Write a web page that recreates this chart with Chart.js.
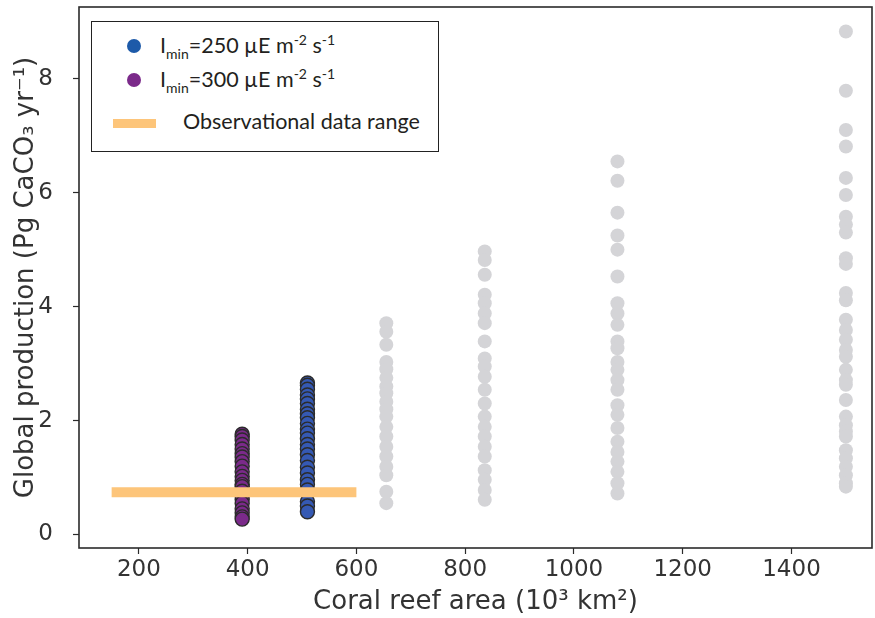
<!DOCTYPE html>
<html>
<head>
<meta charset="utf-8">
<script src="https://cdn.jsdelivr.net/npm/chart.js@4"></script>
<style>
  body { margin: 0; background: #fff; }
  #wrap { position: relative; width: 875px; height: 618px; }
  #legend {
    position: absolute; left: 91px; top: 21px; width: 346px; height: 129px;
    border: 1.6px solid #222; background: #fff;
    font-family: Lato, "Open Sans", sans-serif; font-size: 21.5px; color: #231f20;
  }
  .dot { position: absolute; width: 14px; height: 14px; border-radius: 50%; }
  .lbl { position: absolute; left: 68px; white-space: nowrap; }
  .lbl sub { font-size: 14px; vertical-align: -6px; }
  .lbl sup { font-size: 14px; vertical-align: 8px; }
  .bar { position: absolute; left: 21px; width: 43px; height: 9px; background: #fdc57a; }
</style>
</head>
<body>
<div id="wrap">
  <canvas id="chart" width="875" height="618"></canvas>
  <div id="legend">
    <div class="dot" style="left:35px; top:17px; background:#1d5aa9"></div>
    <div class="lbl" style="top:9px">I<sub>min</sub>=250 µE m<sup>-2</sup> s<sup>-1</sup></div>
    <div class="dot" style="left:35px; top:51px; background:#7b2a8a"></div>
    <div class="lbl" style="top:43px">I<sub>min</sub>=300 µE m<sup>-2</sup> s<sup>-1</sup></div>
    <div class="bar" style="top:97px"></div>
    <div class="lbl" style="top:86px; left:91px">Observational data range</div>
  </div>
</div>
<script>
// x ticks / y ticks
const xTicks = [200, 400, 600, 800, 1000, 1200, 1400];
const yTicks = [0, 2, 4, 6, 8];

// grey columns: other reef-area estimates
const greyAreas = [655, 836, 1080, 1500];
const grey655 = [3.71, 3.56, 3.33, 3.03, 2.90, 2.75, 2.60, 2.48, 2.33, 2.20, 2.07, 1.89, 1.72, 1.54, 1.37, 1.19, 1.04, 0.75, 0.55];
const grey836 = [4.97, 4.82, 4.56, 4.21, 4.06, 3.88, 3.71, 3.39, 3.09, 2.95, 2.77, 2.54, 2.30, 2.07, 1.89, 1.72, 1.54, 1.37, 1.13, 0.96, 0.78, 0.61];
const grey1080 = [6.55, 6.21, 5.65, 5.25, 5.00, 4.53, 4.06, 3.88, 3.68, 3.39, 3.27, 3.03, 2.89, 2.71, 2.54, 2.27, 2.10, 1.87, 1.63, 1.45, 1.28, 1.10, 0.90, 0.72];
const grey1500 = [8.83, 7.79, 7.10, 6.81, 6.26, 5.96, 5.58, 5.44, 5.30, 4.85, 4.75, 4.24, 4.11, 3.77, 3.59, 3.42, 3.24, 3.12, 2.89, 2.71, 2.63, 2.36, 2.07, 1.92, 1.81, 1.72, 1.48, 1.34, 1.19, 1.04, 0.90, 0.84];

// Imin = 250 (blue) and Imin = 300 (purple)
const area250 = 510;
const prod250 = [2.66, 2.62, 2.55, 2.45, 2.38, 2.30, 2.20, 2.12, 2.05, 1.95, 1.85, 1.78, 1.68, 1.58, 1.50, 1.40, 1.30, 1.18, 1.08, 0.96, 0.88, 0.78, 0.58, 0.50, 0.40];
const area300 = 390;
const prod300 = [1.76, 1.72, 1.66, 1.58, 1.50, 1.42, 1.36, 1.28, 1.20, 1.10, 1.02, 0.95, 0.88, 0.84, 0.76, 0.68, 0.62, 0.55, 0.45, 0.38, 0.31, 0.27];

// observational range
const obsArea = [150, 600];
const obsProd = 0.74;

const greyPts = [grey655, grey836, grey1080, grey1500]
  .flatMap((col, i) => col.map((y) => ({ x: greyAreas[i], y })));

const ink = "#2b2b2b";
const tickFont = { family: "'DejaVu Sans', sans-serif", size: 23 };
const titleFont = { family: "'DejaVu Sans', sans-serif", size: 26 };

const frame = {
  id: "frame",
  afterDatasetsDraw(chart) {
    const { ctx, chartArea: a } = chart;
    ctx.save();
    ctx.strokeStyle = ink;
    ctx.lineWidth = 1.6;
    ctx.strokeRect(a.left, a.top, a.right - a.left, a.bottom - a.top);
    ctx.restore();
  },
};

new Chart(document.getElementById("chart"), {
  type: "scatter",
  data: {
    datasets: [
      {
        data: greyPts,
        backgroundColor: "#d4d4d7",
        borderWidth: 0,
        pointRadius: 7,
      },
      {
        type: "line",
        data: obsArea.map((x) => ({ x, y: obsProd })),
        borderColor: "#fdc57a",
        borderWidth: 10,
        borderCapStyle: "butt",
        pointRadius: 0,
      },
      {
        data: prod300.map((y) => ({ x: area300, y })),
        backgroundColor: "#7b2a8a",
        borderColor: ink,
        borderWidth: 1.4,
        pointRadius: 7,
      },
      {
        data: prod250.map((y) => ({ x: area250, y })),
        backgroundColor: "#3559b3",
        borderColor: ink,
        borderWidth: 1.4,
        pointRadius: 7,
      },
    ],
  },
  options: {
    responsive: false,
    animation: false,
    layout: { autoPadding: false, padding: { top: 7, right: 3, left: 0, bottom: 0 } },
    plugins: { legend: { display: false }, tooltip: { enabled: false } },
    scales: {
      x: {
        type: "linear",
        min: 90,
        max: 1548,
        afterBuildTicks: (s) => { s.ticks = xTicks.map((value) => ({ value })); },
        afterFit: (s) => { s.height = 70; s.paddingLeft = 0; s.paddingRight = 0; },
        grid: { drawOnChartArea: false, drawTicks: true, tickLength: 6, tickWidth: 1.2, tickColor: ink },
        border: { display: false },
        ticks: { color: "#333", font: tickFont, padding: 2, maxRotation: 0, callback: (v) => String(v) },
        title: { display: true, text: "Coral reef area (10³ km²)", color: "#333", font: titleFont, padding: { top: 0, bottom: 0 } },
      },
      y: {
        min: -0.237,
        max: 9.26,
        afterBuildTicks: (s) => { s.ticks = yTicks.map((value) => ({ value })); },
        afterFit: (s) => { s.width = 79; s.paddingTop = 0; s.paddingBottom = 0; },
        grid: { drawOnChartArea: false, drawTicks: true, tickLength: 6, tickWidth: 1.2, tickColor: ink },
        border: { display: false },
        ticks: { color: "#333", font: tickFont, padding: 20, callback: (v) => String(v) },
        title: { display: true, text: "Global production (Pg CaCO₃ yr⁻¹)", color: "#333", font: titleFont, padding: { top: 11, bottom: 0 } },
      },
    },
  },
  plugins: [frame],
});
</script>
</body>
</html>
